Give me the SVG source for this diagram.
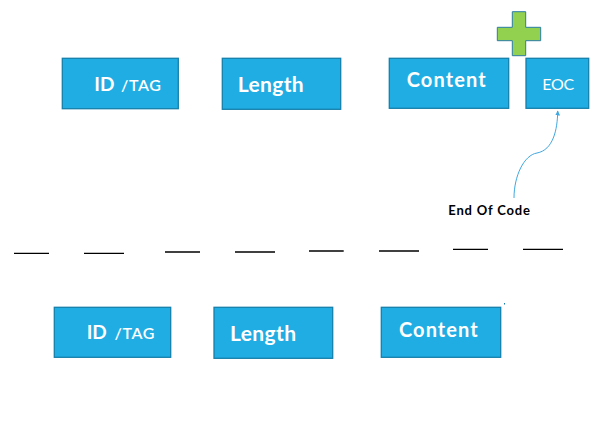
<svg xmlns="http://www.w3.org/2000/svg" width="613" height="445" viewBox="0 0 613 445">
  <style>
    .box { fill: #1fade3; stroke: #167fab; stroke-width: 1.3; }
    .lbl { font-family: Lato, "Open Sans", sans-serif; font-weight: bold; fill: #ffffff; }
    .sm { font-family: Lato, "Open Sans", sans-serif; font-weight: normal; fill: #ffffff; }
    .tag { font-family: Lato, "Open Sans", sans-serif; font-weight: 600; fill: #ffffff; font-size: 16px; }
    .dash { stroke: #000000; stroke-width: 1.3; }
    .note { font-family: Lato, "Open Sans", sans-serif; font-weight: bold; fill: #000000; font-size: 13px; }
  </style>
  <defs>
    <marker id="ah" viewBox="0 0 10 10" refX="9" refY="5" markerWidth="5" markerHeight="5" orient="auto-start-reverse">
      <path d="M0,0 L10,5 L0,10 z" fill="#41a8e0"/>
    </marker>
  </defs>
  <rect width="613" height="445" fill="#ffffff"/>

  <g id="plus">
    <path d="M512.3,11.7 H525.7 V27.3 H540.7 V40.7 H525.7 V55.7 H512.3 V40.7 H497.3 V27.3 H512.3 Z" fill="#92d050" stroke="#2a7ca5" stroke-width="1"/>
  </g>

  <g id="top-id">
    <rect class="box" x="62.3" y="58.3" width="116" height="50.4"/>
    <text class="lbl" x="94.3" y="90.7" font-size="19">ID</text>
    <text class="tag" x="121" y="90.7" textLength="40">/TAG</text>
  </g>
  <g id="top-length">
    <rect class="box" x="222.3" y="58.3" width="118.4" height="51"/>
    <text class="lbl" x="237.7" y="91.7" font-size="21" textLength="66">Length</text>
  </g>
  <g id="top-content">
    <rect class="box" x="389.3" y="58.3" width="119.4" height="50"/>
    <text class="lbl" x="406.7" y="87" font-size="20" textLength="79">Content</text>
  </g>
  <g id="top-eoc">
    <rect class="box" x="526" y="58.3" width="62.7" height="50"/>
    <text class="sm" x="542.3" y="89.7" font-size="16" textLength="32">EOC</text>
  </g>

  <g id="connectors">
    <path d="M514,198 C514,176 524,155 537,153 C553,150 557.5,130 557.7,111" fill="none" stroke="#41a8e0" stroke-width="1" marker-end="url(#ah)"/>
  </g>

  <g id="note">
    <text class="note" x="448.3" y="215" textLength="81.7">End Of Code</text>
  </g>

  <g id="dashes">
    <line class="dash" x1="14" y1="253.3" x2="49" y2="253.3"/>
    <line class="dash" x1="84" y1="253.3" x2="124" y2="253.3"/>
    <line class="dash" x1="165" y1="252" x2="200" y2="252"/>
    <line class="dash" x1="235" y1="252" x2="275" y2="252"/>
    <line class="dash" x1="309" y1="251" x2="343.7" y2="251"/>
    <line class="dash" x1="379" y1="251" x2="419" y2="251"/>
    <line class="dash" x1="453" y1="249.3" x2="488" y2="249.3"/>
    <line class="dash" x1="523" y1="249.3" x2="563" y2="249.3"/>
  </g>

  <g id="bottom-id">
    <rect class="box" x="54.3" y="307.3" width="116.4" height="50"/>
    <text class="lbl" x="86.7" y="339.3" font-size="19">ID</text>
    <text class="tag" x="114.5" y="339.3" textLength="40">/TAG</text>
  </g>
  <g id="bottom-length">
    <rect class="box" x="214" y="307.3" width="118.7" height="51"/>
    <text class="lbl" x="230" y="341" font-size="21" textLength="66">Length</text>
  </g>
  <g id="bottom-content">
    <rect class="box" x="381.3" y="307.3" width="119.4" height="50"/>
    <text class="lbl" x="399" y="336.7" font-size="20" textLength="78.7">Content</text>
  </g>
  <rect x="504" y="303" width="1" height="1.5" fill="#167fab"/>
</svg>
